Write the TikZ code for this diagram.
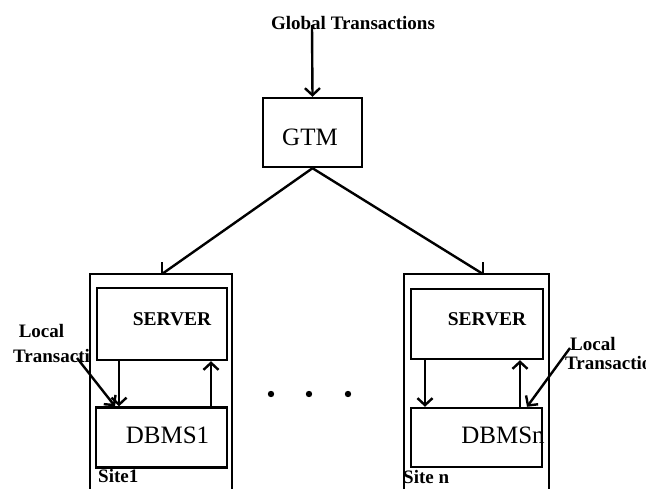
\documentclass[tikz,border=0pt]{standalone}
\usepackage{fontspec}
\setmainfont{Liberation Serif}
\usetikzlibrary{arrows.meta}
\begin{document}
\begin{tikzpicture}[x=1pt,y=-1pt,
  box/.style={draw, line width=2.4pt, inner sep=0pt},
  sitebox/.style={draw, line width=2.8pt, inner sep=0pt},
  big/.style={font=\fontsize{25}{28}\selectfont, inner sep=0pt, anchor=base},
  mid/.style={font=\bfseries\fontsize{19.5}{22}\selectfont, inner sep=0pt, anchor=base},
  tag/.style={font=\bfseries\fontsize{19}{22}\selectfont, inner sep=0pt, anchor=base west},
  wire/.style={line width=2.4pt},
  flow/.style={line width=2.4pt, -{Straight Barb[length=7pt,width=15pt]}},
]
\useasboundingbox (0,0) rectangle (646,488);

% transaction manager
\node[box, minimum width=99pt, minimum height=69pt] (gtm) at (312.5,132.5) {};
\node[big] (gtmt) at (310,145) {GTM};
\node[mid, font=\bfseries\fontsize{19}{22}\selectfont] (gin) at (353,29) {Global Transactions};
\coordinate (ginx) at (312,25);
\draw[flow] (ginx) -- (gtm.north);

% sites (open at the bottom)
\node[sitebox, minimum width=142pt, minimum height=240pt] (site1) at (161,394) {};
\node[sitebox, minimum width=145pt, minimum height=240pt] (siten) at (476.5,394) {};

% servers and local DBMSs
\node[box, minimum width=130pt, minimum height=72pt] (srv1) at (162,324) {};
\node[box, minimum width=131pt, minimum height=60pt] (db1) at (161.5,437.5) {};
\node[box, minimum width=132pt, minimum height=70pt] (srvn) at (477,324) {};
\node[box, minimum width=131pt, minimum height=59pt] (dbn) at (476.5,437.5) {};

\node[mid] (srv1t) at (172,325) {SERVER};
\node[mid] (srvnt) at (487,325) {SERVER};
\node[big] (db1t) at (167.5,443) {DBMS1};
\node[big] (dbnt) at (503,443) {DBMSn};

\node[tag] (s1t) at (98,482) {Site1};
\node[tag] (snt) at (403,483) {Site n};

% links from the GTM to the sites
\coordinate (top1) at (162,274);
\coordinate (stub1) at (162,262);
\coordinate (topn) at (483,274);
\coordinate (stubn) at (483,262);
\draw[wire] (gtm.south) -- (top1);
\draw[wire] (stub1) -- (top1);
\draw[wire] (gtm.south) -- (topn);
\draw[wire] (stubn) -- (topn);

% server <-> DBMS traffic
\coordinate (d1) at (119,0);
\coordinate (u1) at (211,0);
\coordinate (dn) at (425,0);
\coordinate (un) at (520,0);
\draw[flow] (srv1.south -| d1) -- (db1.north -| d1);
\draw[flow] (db1.north -| u1) -- (srv1.south -| u1);
\draw[flow] (srvn.south -| dn) -- (dbn.north -| dn);
\draw[flow] (dbn.north -| un) -- (srvn.south -| un);

% local transactions
\node[tag, anchor=base] (loc1) at (41.5,337) {Local};
\begin{scope}
  \clip (0,340) rectangle (89,380);
  \node[tag] (tr1) at (13,362) {Transactions};
\end{scope}
\coordinate (lt1) at (77,358);
\coordinate (le1) at (115,0);
\draw[flow] (lt1) -- (db1.north -| le1);

\node[tag] (locn) at (570,350) {Local};
\begin{scope}
  \clip (560,352) rectangle (646,380);
  \node[tag] (trn) at (565,369) {Transactions};
\end{scope}
\coordinate (ltn) at (570,348);
\coordinate (len) at (527,0);
\draw[flow] (ltn) -- (dbn.north -| len);

% ellipsis between the sites
\fill (271,394) circle (3.2pt);
\fill (309,394) circle (3.2pt);
\fill (348,394) circle (3.2pt);
\end{tikzpicture}
\end{document}
